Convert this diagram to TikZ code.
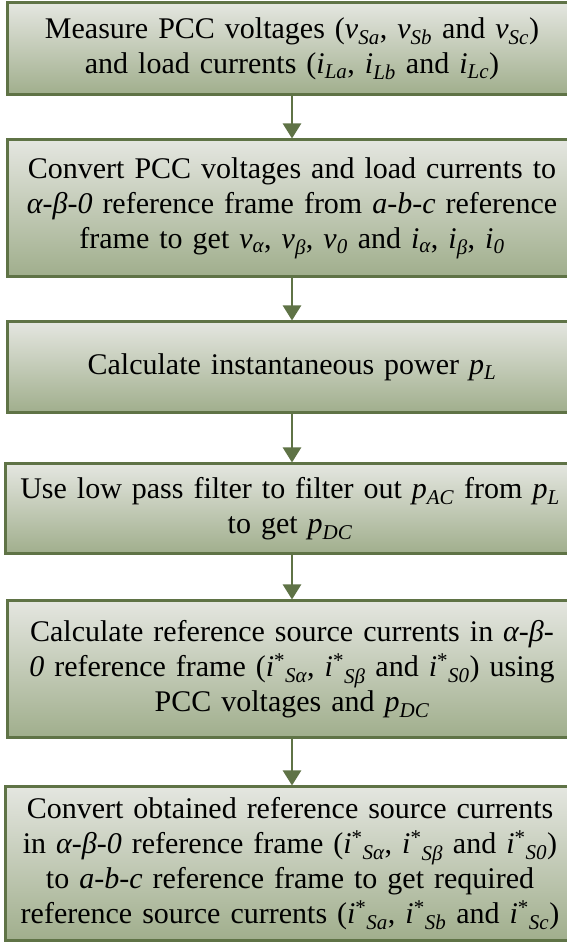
\documentclass[tikz,border=0pt]{standalone}
\usepackage{fontspec}
\setmainfont{Liberation Serif}
\usetikzlibrary{arrows.meta}

\definecolor{boxline}{RGB}{95,115,70}
\definecolor{boxtop}{RGB}{228,230,224}
\definecolor{boxbottom}{RGB}{160,174,140}

\newcommand{\sub}[1]{\textsubscript{\itshape #1}}
\newcommand{\var}[2]{\textit{#1}\sub{#2}}
\newcommand{\istar}[1]{\textit{i}\textsuperscript{*}\sub{#1}}

\begin{document}
\begin{tikzpicture}[x=1pt,y=1pt,
  stage/.style={draw=boxline,line width=3pt,top color=boxtop,bottom color=boxbottom,
    minimum width=568pt,text width=570pt,align=center,inner sep=0pt,
    font=\fontsize{30}{35}\selectfont},
  flow/.style={draw=boxline,line width=2.5pt,-{Triangle[width=18pt,length=15pt]}}]
  \useasboundingbox (0,0) rectangle (567,943);

  \node[stage,minimum height=92pt] (measure) at (292,894)
    {Measure PCC voltages (\var{v}{Sa}, \var{v}{Sb} and \var{v}{Sc})\\
     and load currents (\var{i}{La}, \var{i}{Lb} and \var{i}{Lc})};
  \node[stage,minimum height=137pt] (convert) at (292,734.5)
    {Convert PCC voltages and load currents to\\
     \textit{α-β-0} reference frame from \textit{a-b-c} reference\\
     frame to get \var{v}{α}, \var{v}{β}, \var{v}{0} and \var{i}{α}, \var{i}{β}, \var{i}{0}};
  \node[stage,minimum height=91pt] (power) at (292,575.5)
    {Calculate instantaneous power \var{p}{L}};
  \node[stage,minimum height=90pt] (filter) at (290,434)
    {Use low pass filter to filter out \var{p}{AC} from \var{p}{L}\\
     to get \var{p}{DC}};
  \node[stage,minimum height=137pt] (refab) at (292,273.5)
    {Calculate reference source currents in \textit{α-β-}\\
     \textit{0} reference frame (\istar{Sα}, \istar{Sβ} and \istar{S0}) using\\
     PCC voltages and \var{p}{DC}};
  \node[stage,minimum height=154pt] (refabc) at (290,79)
    {Convert obtained reference source currents\\
     in \textit{α-β-0} reference frame (\istar{Sα}, \istar{Sβ} and \istar{S0})\\
     to \textit{a-b-c} reference frame to get required\\
     reference source currents (\istar{Sa}, \istar{Sb} and \istar{Sc})};

  \draw[flow] (measure) -- (convert);
  \draw[flow] (convert) -- (power);
  \draw[flow] (power) -- (filter.north -| power);
  \draw[flow] (filter.south -| power) -- (refab);
  \draw[flow] (refab) -- (refabc.north -| refab);
\end{tikzpicture}
\end{document}
